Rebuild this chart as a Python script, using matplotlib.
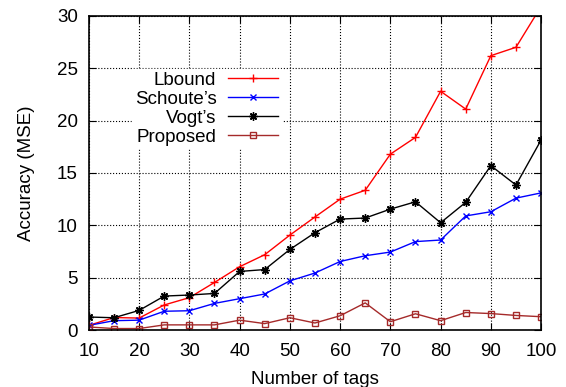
import matplotlib
matplotlib.use("Agg")
import matplotlib.pyplot as plt

plt.rcParams["font.family"] = ["Liberation Sans", "DejaVu Sans"]

# valeurs
tags = [10, 15, 20, 25, 30, 35, 40, 45, 50, 55, 60, 65, 70, 75, 80, 85, 90, 95, 100]
lbound = [0.45, 1.2, 1.15, 2.4, 3.1, 4.55, 6.05, 7.2, 9.07, 10.8, 12.5, 13.35, 16.8, 18.4,
          22.8, 21.1, 26.2, 27.0, 30.9]
schoute = [0.45, 0.9, 0.95, 1.8, 1.85, 2.55, 3.0, 3.45, 4.7, 5.45, 6.55, 7.1, 7.45, 8.45,
           8.6, 10.9, 11.3, 12.6, 13.1]
vogt = [1.25, 1.18, 1.88, 3.25, 3.35, 3.5, 5.6, 5.78, 7.7, 9.3, 10.6, 10.7, 11.55, 12.25,
        10.25, 12.2, 15.7, 13.85, 18.15]
proposed = [0.3, 0.15, 0.15, 0.5, 0.5, 0.5, 0.95, 0.62, 1.18, 0.68, 1.37, 2.6, 0.8, 1.56,
            0.9, 1.68, 1.58, 1.4, 1.28]

fig = plt.figure(figsize=(5.66, 3.87), dpi=100)
ax = fig.add_axes([0.157, 0.147, 0.799, 0.812])

ax.plot(tags, lbound, color="red", marker="+", ms=6, mew=1, lw=1, label="Lbound")
ax.plot(tags, schoute, color="blue", marker="x", ms=5, mew=1, lw=1, label="Schoute\u2019s")
ax.plot(tags, vogt, color="black", marker=(8, 2, 0), ms=6, mew=1, lw=1, label="Vogt\u2019s")
ax.plot(tags, proposed, color="#a52a2a", marker="s", ms=5, mew=1, mfc="none", lw=1,
        label="Proposed")

ax.set_xlim(10, 100)
ax.set_ylim(0, 30)
ax.set_xticks(range(10, 101, 10))
ax.set_yticks(range(0, 31, 5))
ax.tick_params(direction="in", top=True, right=True, labelsize=13.5, length=5)
ax.tick_params(axis="x", pad=9)
ax.tick_params(axis="y", pad=8)
ax.grid(True, linestyle=":", color="black", linewidth=0.8)
for s in ax.spines.values():
    s.set_linewidth(1.2)

ax.set_xlabel("Number of tags", fontsize=13.5, labelpad=8)
ax.set_ylabel("Accuracy (MSE)", fontsize=13.5, labelpad=16)

leg = ax.legend(loc="upper right", bbox_to_anchor=(0.425, 0.832), markerfirst=False,
                fontsize=13.5, frameon=True, fancybox=False, edgecolor="white",
                framealpha=1, handlelength=2.7, handletextpad=0.6, labelspacing=0.1,
                borderpad=0.15, borderaxespad=0, alignment="right")
for t in leg.get_texts():
    t.set_ha("right")

fig.savefig("out.png", dpi=100)
